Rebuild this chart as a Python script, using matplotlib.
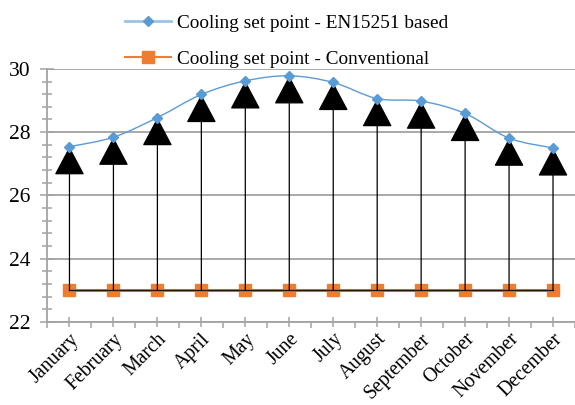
import numpy as np
import matplotlib
matplotlib.use("Agg")
import matplotlib.pyplot as plt
from matplotlib.path import Path
from matplotlib.patches import PathPatch
from matplotlib.lines import Line2D
from matplotlib.ticker import MultipleLocator

plt.rcParams['font.family'] = ['Liberation Serif', 'DejaVu Serif']

months = ["January", "February", "March", "April", "May", "June", "July",
          "August", "September", "October", "November", "December"]
en15251 = [27.54, 27.84, 28.46, 29.19, 29.62, 29.78, 29.57, 29.06, 28.98, 28.59, 27.81, 27.50]
conventional = [23, 23, 23, 23, 23, 23, 23, 23, 23, 23, 23, 23]

blue = "#5B9BD5"
orange = "#ED7D31"
grid_c = "#a3a3a3"

fig = plt.figure(figsize=(5.75, 4.05), dpi=100)
ax = fig.add_axes([0.0826, 0.205, 0.9174, 0.625])

x = np.arange(len(months))

# smoothed line like excel (catmull-rom bezier through the points)
verts = [(x[0], en15251[0])]
codes = [Path.MOVETO]
pts = list(zip(x, en15251))
for i in range(len(pts) - 1):
    p0 = pts[i - 1] if i > 0 else pts[i]
    p1 = pts[i]
    p2 = pts[i + 1]
    p3 = pts[i + 2] if i + 2 < len(pts) else pts[i + 1]
    c1 = (p1[0] + (p2[0] - p0[0]) / 6, p1[1] + (p2[1] - p0[1]) / 6)
    c2 = (p2[0] - (p3[0] - p1[0]) / 6, p2[1] - (p3[1] - p1[1]) / 6)
    verts += [c1, c2, p2]
    codes += [Path.CURVE4] * 3
ax.add_patch(PathPatch(Path(verts, codes), fill=False, edgecolor=blue, lw=1.0, zorder=4))
ax.plot(x, en15251, ls="none", marker="D", ms=5.5, color=blue, zorder=5)

# conventional line
ax.plot(x, conventional, ls="none", marker="s", ms=8, color=orange, zorder=3)
ax.plot(x, conventional, color=orange, lw=2.2, zorder=3)
ax.plot(x, conventional, color="#2a1405", lw=1.0, zorder=3.5)

# arrows from conventional up to EN15251
for xi, lo, hi in zip(x, conventional, en15251):
    ax.annotate("", xy=(xi, hi), xytext=(xi, lo),
                arrowprops=dict(arrowstyle="-|>,head_length=18.5,head_width=9.8",
                                mutation_scale=1, color="black", lw=0.9,
                                shrinkA=0, shrinkB=0),
                zorder=3.6)

ax.set_xlim(-0.5, 11.5)
ax.set_ylim(22, 30)
ax.yaxis.set_major_locator(MultipleLocator(2))
ax.yaxis.set_minor_locator(MultipleLocator(0.4))
ax.set_xticks(x)
ax.set_xticks(np.arange(-0.5, 12, 1), minor=True)
ax.set_xticklabels(months, rotation=45, ha="right", va="top", rotation_mode="anchor")
ax.grid(axis="y", which="major", color=grid_c, lw=1.3)
ax.set_axisbelow(True)

for s in ["top", "right"]:
    ax.spines[s].set_visible(False)
for s in ["left", "bottom"]:
    ax.spines[s].set_color(grid_c)
    ax.spines[s].set_linewidth(1.3)

ax.tick_params(axis="y", which="major", direction="inout", length=10, width=1.1,
               color=grid_c, labelsize=15.5, pad=7)
ax.tick_params(axis="y", which="minor", direction="inout", length=7, width=1.1,
               color=grid_c)
ax.tick_params(axis="x", which="major", direction="inout", length=7, width=1.1,
               color=grid_c, labelsize=14.2, pad=2)
ax.tick_params(axis="x", which="minor", direction="out", length=4.5, width=1.1,
               color=grid_c)

handles = [Line2D([], [], color="#9dc3e6", lw=2, marker="D", ms=5.5,
                  markerfacecolor=blue, markeredgecolor=blue),
           Line2D([], [], color=orange, lw=1.5, marker="s", ms=8,
                  markerfacecolor=orange, markeredgecolor=orange)]
fig.legend(handles, ["Cooling set point - EN15251 based", "Cooling set point - Conventional"],
           loc="upper left", bbox_to_anchor=(0.188, 1.008), frameon=False,
           fontsize=13.9, handlelength=2.35, labelspacing=0.95, handletextpad=0.3)

fig.savefig("out.png", dpi=100)
